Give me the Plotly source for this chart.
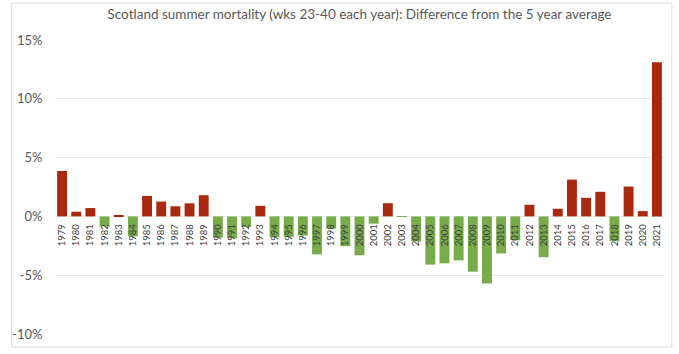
import plotly.graph_objects as go

years = [str(y) for y in range(1979, 2022)]
values = [3.86, 0.40, 0.71, -0.86, 0.05, -1.70, 1.74, 1.26, 0.86, 1.11,
          1.80, -1.80, -1.86, -0.90, 0.90, -1.77, -1.74, -1.63, -3.23, -1.04,
          -2.53, -3.31, -0.62, 1.12, -0.05, -2.13, -4.10, -3.99, -3.74, -4.70,
          -5.70, -3.15, -2.03, 0.99, -3.47, 0.65, 3.13, 1.58, 2.09, -2.08,
          2.54, 0.45, 13.10]
y_ticks = [-10, -5, 0, 5, 10, 15]
y_labels = ["-10%", "-5%", "0%", "5%", "10%", "15%"]
title = "Scotland summer mortality (wks 23-40 each year): Difference from the 5 year average"

RED = "#A8290E"
GREEN = "#78AC4B"
colors = [RED if v >= 0 else GREEN for v in values]

fig = go.Figure(go.Bar(x=years, y=values, marker=dict(color=colors, line=dict(width=0)),
                       showlegend=False))

fig.update_layout(
    width=679, height=354,
    margin=dict(l=46, r=15, t=40, b=19),
    paper_bgcolor="white", plot_bgcolor="white",
    bargap=0.3,
    font=dict(family="Lato, Open Sans, sans-serif", color="#595959"),
    title=dict(text=title, x=0.5, xanchor="center", xref="paper", y=1, yref="container",
               yanchor="top", pad=dict(t=10), font=dict(size=13.5, color="#595959")),
    xaxis=dict(type="category", range=[-0.5, 42.5], anchor="free", position=0.4,
               tickangle=-90, tickfont=dict(size=9.5, color="#404040"),
               showline=False, showgrid=False, ticks="outside", ticklen=3,
               tickcolor="rgba(0,0,0,0)"),
    yaxis=dict(range=[-10, 15], tickvals=y_ticks, ticktext=y_labels,
               showgrid=True, gridcolor="#E6E6E6", gridwidth=1,
               zeroline=True, zerolinecolor="#EDEDED", zerolinewidth=1,
               tickfont=dict(size=13, color="#595959"), ticks="outside", ticklen=9,
               tickcolor="rgba(0,0,0,0)"),
    shapes=[dict(type="rect", xref="paper", yref="paper",
                 x0=-44/618, x1=(672-46)/618, y0=-(348-335)/295, y1=(335-3)/295,
                 line=dict(color="#D9D9D9", width=1), fillcolor="rgba(0,0,0,0)", layer="below")],
)

fig.write_html("out.html")
